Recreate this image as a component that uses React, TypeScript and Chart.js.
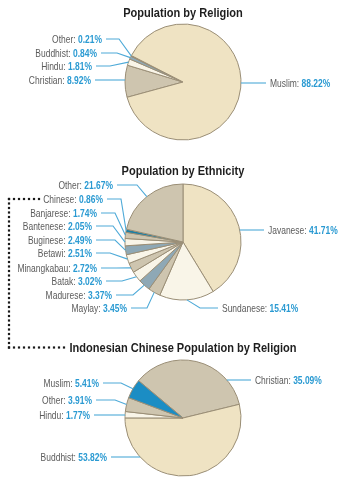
import React, { useEffect, useRef } from 'react';
import { Chart, registerables } from 'chart.js';
Chart.register(...registerables);

// ---------- data ----------
const religionNames = ['Christian', 'Hindu', 'Buddhist', 'Other', 'Muslim'];
const religionValues = [8.92, 1.81, 0.84, 0.21, 88.22];

const ethnicNames = ['Javanese', 'Sundanese', 'Maylay', 'Madurese', 'Batak', 'Minangkabau', 'Betawi', 'Buginese', 'Bantenese', 'Banjarese', 'Chinese', 'Other'];
const ethnicValues = [41.71, 15.41, 3.45, 3.37, 3.02, 2.72, 2.51, 2.49, 2.05, 1.74, 0.86, 21.67];

const chineseNames = ['Christian', 'Buddhist', 'Hindu', 'Other', 'Muslim'];
const chineseValues = [35.09, 53.82, 1.77, 3.91, 5.41];

const chartTitles = ['Population by Religion', 'Population by Ethnicity', 'Indonesian Chinese Population by Religion'];

// ---------- styles ----------
const BEIGE = '#efe3c3';
const TAN = '#cec5af';
const CREAM = '#f9f5e8';
const BLUEGRAY = '#8ea8b5';
const DARKBLUEGRAY = '#5f7f8e';
const TEAL = '#1a7fa5';
const BLUE = '#1b8dc4';
const BORDER = '#9a8e76';
const TEXT_GRAY = '#5b5b5b';
const VALUE_BLUE = '#2a9ad2';
const LINE_BLUE = '#4eaad8';

const religionColors = [TAN, CREAM, BLUEGRAY, DARKBLUEGRAY, BEIGE];
const ethnicColors = [BEIGE, CREAM, TAN, BLUEGRAY, CREAM, TAN, CREAM, BLUEGRAY, CREAM, TAN, TEAL, TAN];
const chineseColors = [TAN, BEIGE, CREAM, TAN, BLUE];

type Lay = { side: 'L' | 'R'; x: number; y: number; elbow?: number; mode: 'h' | 'mid' };

const religionLayout: Lay[] = [
  { side: 'L', x: 91, y: 80, mode: 'h' },
  { side: 'L', x: 92, y: 66, elbow: 110, mode: 'mid' },
  { side: 'L', x: 97, y: 53, elbow: 117, mode: 'mid' },
  { side: 'L', x: 102, y: 39, elbow: 119, mode: 'mid' },
  { side: 'R', x: 270, y: 83, mode: 'h' },
];
const ethnicLayout: Lay[] = [
  { side: 'R', x: 268, y: 230, mode: 'h' },
  { side: 'R', x: 222, y: 308, elbow: 200, mode: 'mid' },
  { side: 'L', x: 127, y: 308, elbow: 147, mode: 'mid' },
  { side: 'L', x: 112, y: 295, elbow: 133, mode: 'mid' },
  { side: 'L', x: 102, y: 281, elbow: 122, mode: 'mid' },
  { side: 'L', x: 97, y: 268, elbow: 116, mode: 'mid' },
  { side: 'L', x: 92, y: 253, elbow: 110, mode: 'mid' },
  { side: 'L', x: 92, y: 240, elbow: 115, mode: 'mid' },
  { side: 'L', x: 92, y: 226, elbow: 113, mode: 'mid' },
  { side: 'L', x: 97, y: 213, elbow: 115, mode: 'mid' },
  { side: 'L', x: 103, y: 199, elbow: 121, mode: 'mid' },
  { side: 'L', x: 113, y: 185, elbow: 137, mode: 'mid' },
];
const chineseLayout: Lay[] = [
  { side: 'R', x: 255, y: 380, mode: 'h' },
  { side: 'L', x: 107, y: 457, mode: 'h' },
  { side: 'L', x: 90, y: 415, mode: 'h' },
  { side: 'L', x: 92, y: 400, elbow: 115, mode: 'mid' },
  { side: 'L', x: 99, y: 383, elbow: 121, mode: 'mid' },
];

const W = 351;
const H = 484;
const PIE_SIZE = 117;
const PIE_LEFT = 124.5;
const FONT = '"Liberation Sans", Arial, sans-serif';
const LABEL_SX = 0.77;
const TITLE_SX = 0.85;

type Cfg = {
  names: string[];
  values: number[];
  colors: string[];
  layout: Lay[];
  rotation: number;
  centerY: number;
  title: string;
  titleY: number;
  connector?: boolean;
};

function makePlugin(cfg: Cfg) {
  return {
    id: 'leaderLabels',
    afterDraw(chart: any) {
      const ctx: CanvasRenderingContext2D = chart.ctx;
      const meta = chart.getDatasetMeta(0);
      const first = meta.data[0];
      if (!first) return;
      ctx.save();
      // title
      ctx.font = `bold 13px ${FONT}`;
      ctx.fillStyle = '#1e1e1e';
      ctx.textBaseline = 'alphabetic';
      const tw = ctx.measureText(cfg.title).width * TITLE_SX;
      ctx.save();
      ctx.translate(first.x - tw / 2, cfg.titleY);
      ctx.scale(TITLE_SX, 1);
      ctx.fillText(cfg.title, 0, 0);
      ctx.restore();

      meta.data.forEach((arc: any, i: number) => {
        const p = arc.getProps(['x', 'y', 'startAngle', 'endAngle', 'outerRadius'], true);
        const lay = cfg.layout[i];
        const r = p.outerRadius;
        let ax: number, ay: number;
        if (lay.mode === 'h') {
          const dy = lay.y - p.y;
          const dx = Math.sqrt(Math.max(r * r - dy * dy, 0));
          ax = lay.side === 'L' ? p.x - dx : p.x + dx;
          ay = lay.y;
        } else {
          const a = (p.startAngle + p.endAngle) / 2;
          ax = p.x + r * Math.cos(a);
          ay = p.y + r * Math.sin(a);
        }
        const lineEnd = lay.side === 'L' ? lay.x + 4 : lay.x - 4;
        ctx.strokeStyle = LINE_BLUE;
        ctx.lineWidth = 1.1;
        ctx.beginPath();
        ctx.moveTo(lineEnd, lay.y);
        if (lay.elbow !== undefined) ctx.lineTo(lay.elbow, lay.y);
        ctx.lineTo(ax, ay);
        ctx.stroke();

        const nameTxt = cfg.names[i] + ': ';
        const valTxt = cfg.values[i].toFixed(2) + '%';
        ctx.font = `11px ${FONT}`;
        const nw = ctx.measureText(nameTxt).width;
        ctx.font = `bold 11px ${FONT}`;
        const vw = ctx.measureText(valTxt).width;
        const total = (nw + vw) * LABEL_SX;
        const sx = lay.side === 'L' ? lay.x - total : lay.x;
        ctx.save();
        ctx.translate(sx, lay.y);
        ctx.scale(LABEL_SX, 1);
        ctx.textBaseline = 'middle';
        ctx.font = `11px ${FONT}`;
        ctx.fillStyle = TEXT_GRAY;
        ctx.fillText(nameTxt, 0, 0.5);
        ctx.font = `bold 11px ${FONT}`;
        ctx.fillStyle = VALUE_BLUE;
        ctx.fillText(valTxt, nw, 0.5);
        ctx.restore();
      });

      if (cfg.connector) {
        ctx.fillStyle = '#1a1a1a';
        const dot = (x: number, y: number) => ctx.fillRect(x - 1.1, y - 1.1, 2.2, 2.2);
        const topY = 199;
        const botY = 347.5;
        const lx = 9;
        for (let x = lx; x <= 39; x += 5) dot(x, topY);
        for (let y = topY; y <= botY; y += 4.5) dot(lx, y);
        for (let x = lx; x <= 66; x += 5) dot(x, botY);
      }
      ctx.restore();
    },
  };
}

function PieCanvas({ cfg }: { cfg: Cfg }) {
  const ref = useRef<HTMLCanvasElement | null>(null);
  useEffect(() => {
    if (!ref.current) return;
    const top = cfg.centerY - PIE_SIZE / 2;
    const chart = new Chart(ref.current, {
      type: 'pie',
      data: {
        labels: cfg.names,
        datasets: [
          {
            data: cfg.values,
            backgroundColor: cfg.colors,
            borderColor: BORDER,
            borderWidth: 1,
            hoverOffset: 0,
            offset: 0,
          } as any,
        ],
      },
      options: {
        responsive: false,
        maintainAspectRatio: false,
        animation: false,
        events: [],
        rotation: cfg.rotation,
        layout: {
          padding: {
            left: PIE_LEFT,
            right: W - PIE_LEFT - PIE_SIZE,
            top: top,
            bottom: H - top - PIE_SIZE,
          },
        },
        plugins: {
          legend: { display: false },
          tooltip: { enabled: false },
          title: { display: false },
        },
      } as any,
      plugins: [makePlugin(cfg)],
    });
    return () => chart.destroy();
  }, [cfg]);
  return (
    <canvas
      ref={ref}
      width={W}
      height={H}
      style={{ position: 'absolute', left: 0, top: 0, width: W, height: H }}
    />
  );
}

const cfgs: Cfg[] = [
  {
    names: religionNames,
    values: religionValues,
    colors: religionColors,
    layout: religionLayout,
    rotation: 254.7,
    centerY: 82,
    title: chartTitles[0],
    titleY: 16.5,
  },
  {
    names: ethnicNames,
    values: ethnicValues,
    colors: ethnicColors,
    layout: ethnicLayout,
    rotation: 0,
    centerY: 242,
    title: chartTitles[1],
    titleY: 175,
    connector: true,
  },
  {
    names: chineseNames,
    values: chineseValues,
    colors: chineseColors,
    layout: chineseLayout,
    rotation: 310,
    centerY: 418,
    title: chartTitles[2],
    titleY: 351.5,
  },
];

export default function App() {
  return (
    <div style={{ position: 'fixed', left: 0, top: 0, width: W, height: H, background: '#fff', overflow: 'hidden' }}>
      {cfgs.map((c, i) => (
        <PieCanvas key={i} cfg={c} />
      ))}
    </div>
  );
}
